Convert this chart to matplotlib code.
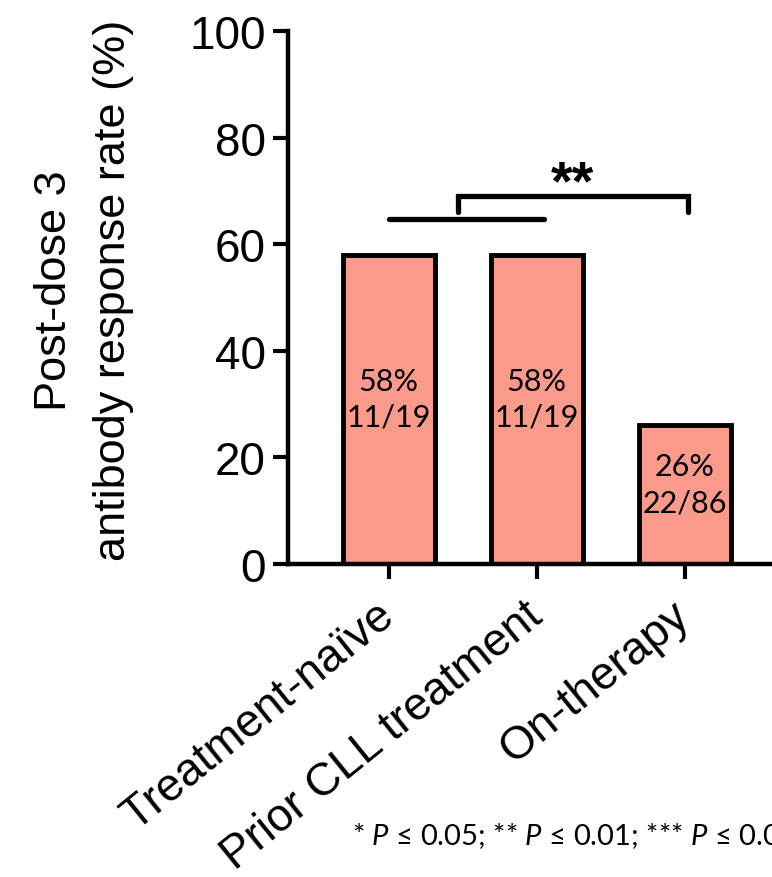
import matplotlib
matplotlib.use("Agg")
import matplotlib.pyplot as plt

# data
groups = ["Treatment-naïve", "Prior CLL treatment", "On-therapy"]
rates = [58, 58, 26]
responders = [11, 11, 22]
totals = [19, 19, 86]

bar_color = "#F99A8A"

plt.rcParams["font.family"] = ["Liberation Sans", "DejaVu Sans"]
plt.rcParams["mathtext.fontset"] = "custom"
plt.rcParams["mathtext.rm"] = "Lato"
plt.rcParams["mathtext.it"] = "Lato:italic"

fig = plt.figure(figsize=(7.72, 8.78), dpi=100)
ax = fig.add_axes([0.373, 0.3565, 0.627, 0.607])

x = list(range(len(groups)))
ax.bar(x, rates, width=0.62, color=bar_color, edgecolor="black", linewidth=3.5, zorder=2)

for xi, r, n, t in zip(x, rates, responders, totals):
    ax.text(xi, r / 2 + 2, f"{r}%\n{n}/{t}", ha="center", va="center",
            fontsize=22, family="Lato", linespacing=1.35, zorder=3)

# significance bracket between pooled "not on therapy" and on-therapy
ax.plot([0, 1.05], [64.7, 64.7], color="black", lw=3.8, solid_capstyle="round", clip_on=False)
ax.plot([0.47, 0.47, 2.02, 2.02], [66, 69, 69, 66], color="black", lw=3.8,
        solid_capstyle="round", solid_joinstyle="miter", clip_on=False)
ax.text(1.245, 68.6, "**", ha="center", va="baseline", fontsize=40, fontweight="bold")

ax.set_xlim(-0.68, 2.59)
ax.set_ylim(0, 100)
ax.set_yticks([0, 20, 40, 60, 80, 100])
ax.set_xticks(x)
ax.set_xticklabels(groups, rotation=39, ha="right", va="center",
                   rotation_mode="anchor", fontsize=33)
ax.tick_params(axis="y", labelsize=33, length=11, width=3, pad=5)
ax.tick_params(axis="x", length=11, width=3, pad=22)

for side in ["top", "right"]:
    ax.spines[side].set_visible(False)
for side in ["left", "bottom"]:
    ax.spines[side].set_linewidth(3.2)

ax.set_ylabel("Post-dose 3\nantibody response rate (%)", fontsize=32.5, linespacing=1.55)
ax.yaxis.set_label_coords(-0.318, 0.515)

fig.text(0.456, 0.0376, "* $P$ ≤ 0.05; ** $P$ ≤ 0.01; *** $P$ ≤ 0.001",
         fontsize=21, family="Lato", ha="left", va="baseline")

fig.savefig("out.png", dpi=100)
